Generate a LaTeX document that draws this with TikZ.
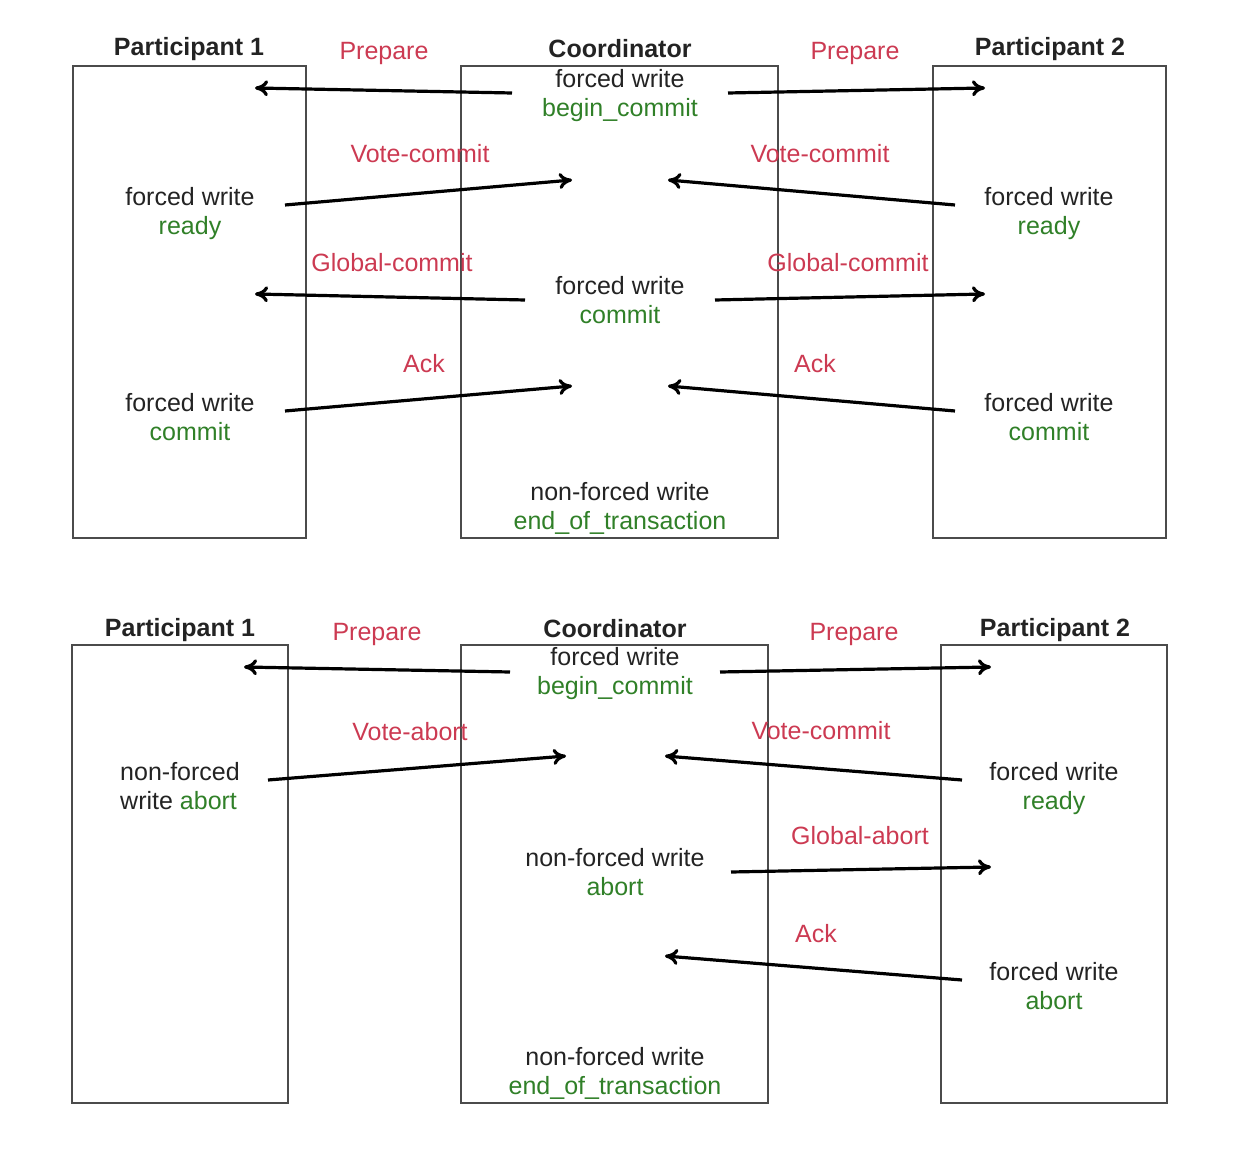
\documentclass[tikz,border=0pt]{standalone}
\usepackage{fontspec}
\setmainfont{Liberation Sans}
\usetikzlibrary{arrows.meta}
\definecolor{msgred}{RGB}{204,58,82}
\definecolor{loggreen}{RGB}{48,128,40}
\definecolor{txtgray}{RGB}{35,35,35}
\definecolor{boxgray}{RGB}{75,75,75}

\begin{document}
\begin{tikzpicture}[x=0.5pt,y=-0.5pt,
    every node/.style={font=\fontsize{12.5}{14.5}\selectfont, text=txtgray, inner sep=0pt, align=center},
    role/.style={font=\fontsize{12.5}{14.5}\selectfont\bfseries},
    lbl/.style={text=msgred},
    lane/.style={draw=boxgray, line width=0.7pt},
    msg/.style={-{To[length=6.5pt,width=8pt]}, line width=1.6pt, black}]
  \useasboundingbox (0,0) rectangle (1252,1154);

  % commit case
  \draw[lane] (73,66) rectangle (306,538);
  \draw[lane] (461,66) rectangle (778,538);
  \draw[lane] (933,66) rectangle (1166,538);
  \node[role] (p1title) at (189,49) {Participant 1};
  \node[role] (ctitle) at (620,49) {Coordinator};
  \node[role] (p2title) at (1050,49) {Participant 2};

  \node (cbegin) at (620,96) {forced write\\{\color{loggreen}begin\_commit}};
  \node (p1ready) at (190,214) {forced write\\{\color{loggreen}ready}};
  \node (p2ready) at (1049,214) {forced write\\{\color{loggreen}ready}};
  \node (ccommit) at (620,300) {forced write\\{\color{loggreen}commit}};
  \node (p1commit) at (190,417) {forced write\\{\color{loggreen}commit}};
  \node (p2commit) at (1049,417) {forced write\\{\color{loggreen}commit}};
  \node (cend) at (620,508) {non-forced write\\{\color{loggreen}end\_of\_transaction}};

  \node[lbl] (prep1) at (384,54) {Prepare};
  \node[lbl] (prep2) at (855,54) {Prepare};
  \node[lbl] (vote1) at (420,154) {Vote-commit};
  \node[lbl] (vote2) at (820,154) {Vote-commit};
  \node[lbl] (glob1) at (392,263) {Global-commit};
  \node[lbl] (glob2) at (848,263) {Global-commit};
  \node[lbl] (ack1) at (424,364) {Ack};
  \node[lbl] (ack2) at (815,364) {Ack};

  \coordinate (cprepout1) at (512,93);
  \coordinate (cprepout2) at (728,93);
  \coordinate (p1prepin) at (255,88);
  \coordinate (p2prepin) at (985,88);
  \coordinate (p1voteout) at (285,205);
  \coordinate (p2voteout) at (955,205);
  \coordinate (cvotein1) at (572,180);
  \coordinate (cvotein2) at (668,180);
  \coordinate (cglobout1) at (525,300);
  \coordinate (cglobout2) at (715,300);
  \coordinate (p1globin) at (255,294);
  \coordinate (p2globin) at (985,294);
  \coordinate (p1ackout) at (285,411);
  \coordinate (p2ackout) at (955,411);
  \coordinate (cackin1) at (572,386);
  \coordinate (cackin2) at (668,386);

  \draw[msg] (cprepout1) -- (p1prepin);
  \draw[msg] (cprepout2) -- (p2prepin);
  \draw[msg] (p1voteout) -- (cvotein1);
  \draw[msg] (p2voteout) -- (cvotein2);
  \draw[msg] (cglobout1) -- (p1globin);
  \draw[msg] (cglobout2) -- (p2globin);
  \draw[msg] (p1ackout) -- (cackin1);
  \draw[msg] (p2ackout) -- (cackin2);

  % abort case
  \draw[lane] (72,645) rectangle (288,1103);
  \draw[lane] (461,645) rectangle (768,1103);
  \draw[lane] (941,645) rectangle (1167,1103);
  \node[role] (q1title) at (180,630) {Participant 1};
  \node[role] (dtitle) at (615,629) {Coordinator};
  \node[role] (q2title) at (1055,630) {Participant 2};

  \node (dbegin) at (615,674) {forced write\\{\color{loggreen}begin\_commit}};
  \node[align=left] (q1abort) at (180,786) {non-forced\\write {\color{loggreen}abort}};
  \node (q2ready) at (1054,789) {forced write\\{\color{loggreen}ready}};
  \node (dabort) at (615,872) {non-forced write\\{\color{loggreen}abort}};
  \node (q2abort) at (1054,986) {forced write\\{\color{loggreen}abort}};
  \node (dend) at (615,1073) {non-forced write\\{\color{loggreen}end\_of\_transaction}};

  \node[lbl] (prep3) at (377,634) {Prepare};
  \node[lbl] (prep4) at (854,634) {Prepare};
  \node[lbl] (vote3) at (410,732) {Vote-abort};
  \node[lbl] (vote4) at (821,731) {Vote-commit};
  \node[lbl] (glob4) at (860,836) {Global-abort};
  \node[lbl] (ack4) at (816,934) {Ack};

  \coordinate (dprepout1) at (510,672);
  \coordinate (dprepout2) at (720,672);
  \coordinate (q1prepin) at (244,667);
  \coordinate (q2prepin) at (991,667);
  \coordinate (q1voteout) at (268,780);
  \coordinate (q2voteout) at (962,780);
  \coordinate (dvotein1) at (566,756);
  \coordinate (dvotein2) at (665,756);
  \coordinate (dglobout) at (731,872);
  \coordinate (q2globin) at (991,867);
  \coordinate (q2ackout) at (962,980);
  \coordinate (dackin) at (665,956);

  \draw[msg] (dprepout1) -- (q1prepin);
  \draw[msg] (dprepout2) -- (q2prepin);
  \draw[msg] (q1voteout) -- (dvotein1);
  \draw[msg] (q2voteout) -- (dvotein2);
  \draw[msg] (dglobout) -- (q2globin);
  \draw[msg] (q2ackout) -- (dackin);
\end{tikzpicture}
\end{document}
